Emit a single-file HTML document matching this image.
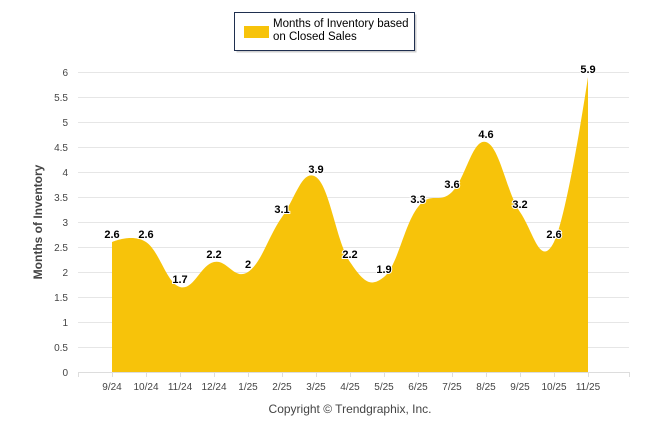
<!DOCTYPE html>
<html><head><meta charset="utf-8"><style>
body{margin:0;background:#fff;font-family:"Liberation Sans",sans-serif;}
svg text{font-family:"Liberation Sans",sans-serif;}
</style></head><body>
<svg width="646" height="434" viewBox="0 0 646 434">
<g>
<rect x="236.5" y="14.5" width="180" height="38" fill="#a0a0a0" opacity="0.5"/>
<rect x="234.5" y="12.5" width="180" height="38" fill="#fff" stroke="#1f2f4f" stroke-width="1"/>
<rect x="244" y="26" width="25" height="12" fill="#f7c30a"/>
<text x="273" y="27" font-size="11.5" fill="#000">Months of Inventory based</text>
<text x="273" y="40" font-size="11.5" fill="#000">on Closed Sales</text>
</g>
<g id="grid"></g>
<g id="area"></g>
<g id="axes"></g>
<text transform="translate(42,222) rotate(-90)" text-anchor="middle" font-size="12" font-weight="bold" fill="#444">Months of Inventory</text>
<text x="350" y="413" text-anchor="middle" font-size="12" fill="#444">Copyright © Trendgraphix, Inc.</text>
</svg>
<script>
const categories=["9/24","10/24","11/24","12/24","1/25","2/25","3/25","4/25","5/25","6/25","7/25","8/25","9/25","10/25","11/25"];
const values=[2.6,2.6,1.7,2.2,2,3.1,3.9,2.2,1.9,3.3,3.6,4.6,3.2,2.6,5.9];
const yTicks=[0,0.5,1,1.5,2,2.5,3,3.5,4,4.5,5,5.5,6];
const NS="http://www.w3.org/2000/svg";
const x0=112,step=34,plotL=78,plotR=629;
const xs=i=>x0+i*step;
const ys=v=>372-v*50;
function mk(tag,attrs,parent,txt){const e=document.createElementNS(NS,tag);for(const k in attrs)e.setAttribute(k,attrs[k]);if(txt!=null)e.textContent=txt;document.getElementById(parent).appendChild(e);return e;}
yTicks.forEach(t=>{
 const l=mk('line',{x1:plotL,x2:plotR,y1:ys(t)+0.5,y2:ys(t)+0.5,stroke:'#e6e6e6','stroke-width':1},'grid');
 
 
 const tx=mk('text',{x:68,y:ys(t)+4,'text-anchor':'end','font-size':10,fill:'#444'},'axes',String(t));
 
 
});
// spline path (highcharts-like)
const pts=values.map((v,i)=>[xs(i),ys(v)]);
let d=`M${pts[0][0]},${ys(0)} L${pts[0][0]},${pts[0][1]}`;
const sm=1.5;
function ctrl(i){
 const p=pts[i],a=pts[i-1],b=pts[i+1];
 if(!a||!b) return [p,p];
 let lx=(sm*p[0]+a[0])/(sm+1),ly=(sm*p[1]+a[1])/(sm+1);
 let rx=(sm*p[0]+b[0])/(sm+1),ry=(sm*p[1]+b[1])/(sm+1);
 const cor=((ry-ly)*(rx-p[0]))/(rx-lx)+p[1]-ry;
 ly+=cor;ry+=cor;
 return [[lx,ly],[rx,ry]];
}
for(let i=1;i<pts.length;i++){
 const c1=ctrl(i-1)[1],c2=ctrl(i)[0];
 d+=` C${c1[0]},${c1[1]} ${c2[0]},${c2[1]} ${pts[i][0]},${pts[i][1]}`;
}
d+=` L${pts[pts.length-1][0]},${ys(0)} Z`;
const area=mk('path',{d:d,fill:'#f7c30a'},'area');


// x axis
const ax=mk('line',{x1:plotL,x2:plotR,y1:ys(0)+0.5,y2:ys(0)+0.5,stroke:'#ddd'},'axes');


[plotL,...categories.map((c,i)=>xs(i)),plotR].forEach(x=>{
 const t=mk('line',{x1:x+0.5,x2:x+0.5,y1:ys(0),y2:ys(0)+5,stroke:'#ddd'},'axes');
 
 
});
categories.forEach((c,i)=>{
 const t=mk('text',{x:xs(i),y:390,'text-anchor':'middle','font-size':10,fill:'#444'},'axes',c);
 
 
});
values.forEach((v,i)=>{
 const t=mk('text',{x:xs(i),y:ys(v)-4,'text-anchor':'middle','font-size':11,'font-weight':'bold',fill:'#000',stroke:'#fff','stroke-width':2,'paint-order':'stroke'},'axes',String(v));
 
 
});
</script>
</body></html>
